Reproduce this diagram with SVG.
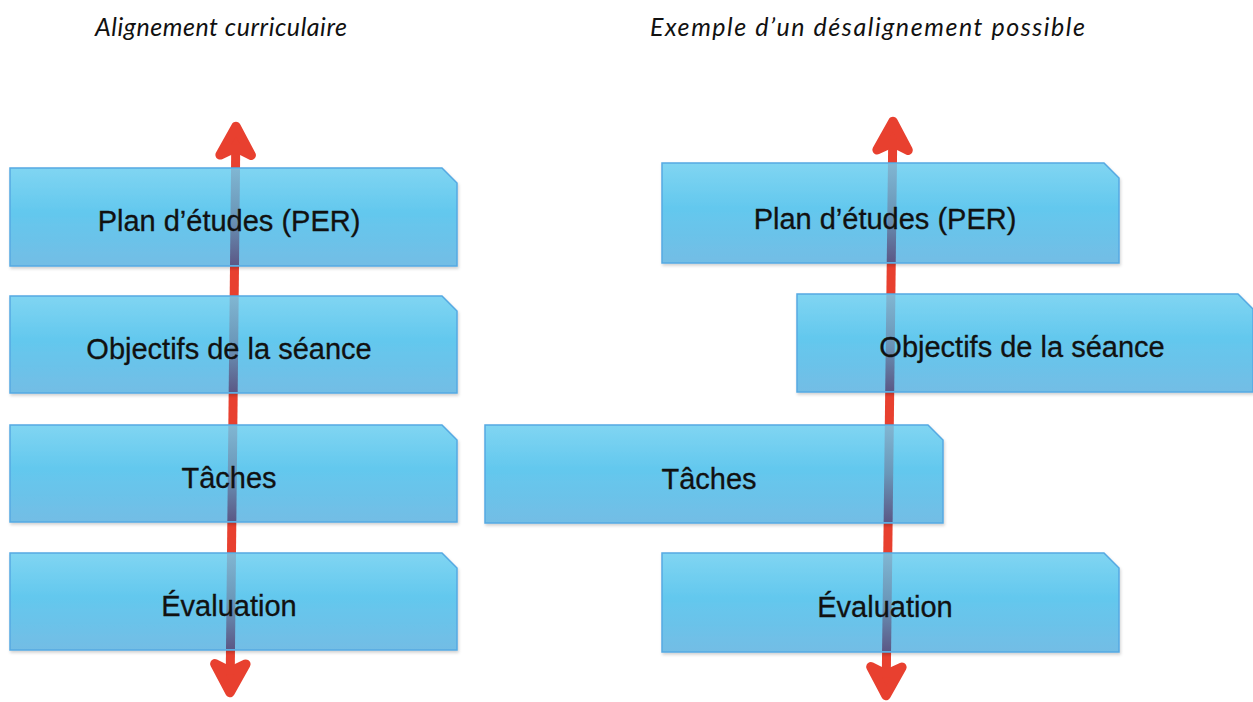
<svg xmlns="http://www.w3.org/2000/svg" width="1253" height="702" viewBox="0 0 1253 702">
  <defs>
    <linearGradient id="boxFill" x1="0" y1="0" x2="0" y2="1">
      <stop offset="0" stop-color="#80d5f2"/>
      <stop offset="0.45" stop-color="#63c8ee"/>
      <stop offset="1" stop-color="#73bde5"/>
    </linearGradient>
    <linearGradient id="stripFill" x1="0" y1="0" x2="0" y2="1">
      <stop offset="0" stop-color="#80b6d2"/>
      <stop offset="0.5" stop-color="#6a96b8"/>
      <stop offset="1" stop-color="#5b5886"/>
    </linearGradient>
    <filter id="shadow" x="-5%" y="-10%" width="110%" height="130%">
      <feDropShadow dx="1" dy="2" stdDeviation="1.5" flood-color="#000" flood-opacity="0.18"/>
    </filter>
    <marker id="head" markerUnits="userSpaceOnUse" orient="auto-start-reverse" refX="-25" refY="0" markerWidth="60" markerHeight="60" viewBox="-45 -30 60 60" overflow="visible">
      <path d="M -4.5 0 L -33 -15.5 L -27 -3 L -27 3 L -33 15.5 Z" fill="#e8402f" stroke="#e8402f" stroke-width="9.5" stroke-linejoin="round"/>
    </marker>
    <style>
      .box { fill: url(#boxFill); stroke: #56a9e2; stroke-width: 1.5; filter: url(#shadow); }
      .strip { fill: url(#stripFill); }
      .lbl { font-family: "Liberation Sans", Arial, sans-serif; font-size: 29px; fill: #111; text-anchor: middle; stroke: #111; stroke-width: 0.3; }
      .title { font-family: Lato, "Open Sans", sans-serif; font-style: italic; font-size: 25px; fill: #111; }
      .arrow { stroke: #e8402f; stroke-width: 9; fill: none; marker-start: url(#head); marker-end: url(#head); }
    </style>
  </defs>
  <rect width="1253" height="702" fill="#ffffff"/>

  <g id="titles">
    <text class="title" x="95" y="36" textLength="252" lengthAdjust="spacing">Alignement curriculaire</text>
    <text class="title" x="650" y="36" textLength="435" lengthAdjust="spacing">Exemple d’un désalignement possible</text>
  </g>

  <g id="connectors">
    <line class="arrow" x1="235.74" y1="147" x2="230.26" y2="672"/>
    <line class="arrow" x1="892.7" y1="142" x2="886.3" y2="675"/>
  </g>

  <g id="left-plan">
    <path class="box" d="M10 168 H442 L457 183 V266 H10 Z"/>
    <polygon class="strip" points="231.02,169 240.02,169 239,265 230,265"/>
    <text class="lbl" x="229" y="231">Plan d’études (PER)</text>
  </g>
  <g id="left-objectifs">
    <path class="box" d="M10 296 H442 L457 311 V393 H10 Z"/>
    <polygon class="strip" points="229.68,297 238.68,297 237.67,392 228.67,392"/>
    <text class="lbl" x="229" y="359">Objectifs de la séance</text>
  </g>
  <g id="left-taches">
    <path class="box" d="M10 425 H442 L457 440 V522 H10 Z"/>
    <polygon class="strip" points="228.34,426 237.34,426 236.33,521 227.33,521"/>
    <text class="lbl" x="229" y="488">Tâches</text>
  </g>
  <g id="left-evaluation">
    <path class="box" d="M10 553 H442 L457 568 V650 H10 Z"/>
    <polygon class="strip" points="227,554 236,554 234.99,649 225.99,649"/>
    <text class="lbl" x="229" y="616">Évaluation</text>
  </g>

  <g id="right-plan">
    <path class="box" d="M662 163 H1104 L1119 178 V263 H662 Z"/>
    <polygon class="strip" points="887.95,164 896.95,164 895.75,262 886.75,262"/>
    <text class="lbl" x="885" y="229">Plan d’études (PER)</text>
  </g>
  <g id="right-objectifs">
    <path class="box" d="M797 294 H1238 L1253 309 V392 H797 Z"/>
    <polygon class="strip" points="886.37,295 895.37,295 894.2,391 885.2,391"/>
    <text class="lbl" x="1022" y="357">Objectifs de la séance</text>
  </g>
  <g id="right-taches">
    <path class="box" d="M485 425 H928 L943 440 V523 H485 Z"/>
    <polygon class="strip" points="884.8,426 893.8,426 892.63,522 883.63,522"/>
    <text class="lbl" x="709" y="489">Tâches</text>
  </g>
  <g id="right-evaluation">
    <path class="box" d="M662 553 H1104 L1119 568 V652 H662 Z"/>
    <polygon class="strip" points="883.27,554 892.27,554 891.08,651 882.08,651"/>
    <text class="lbl" x="885" y="617">Évaluation</text>
  </g>
</svg>
